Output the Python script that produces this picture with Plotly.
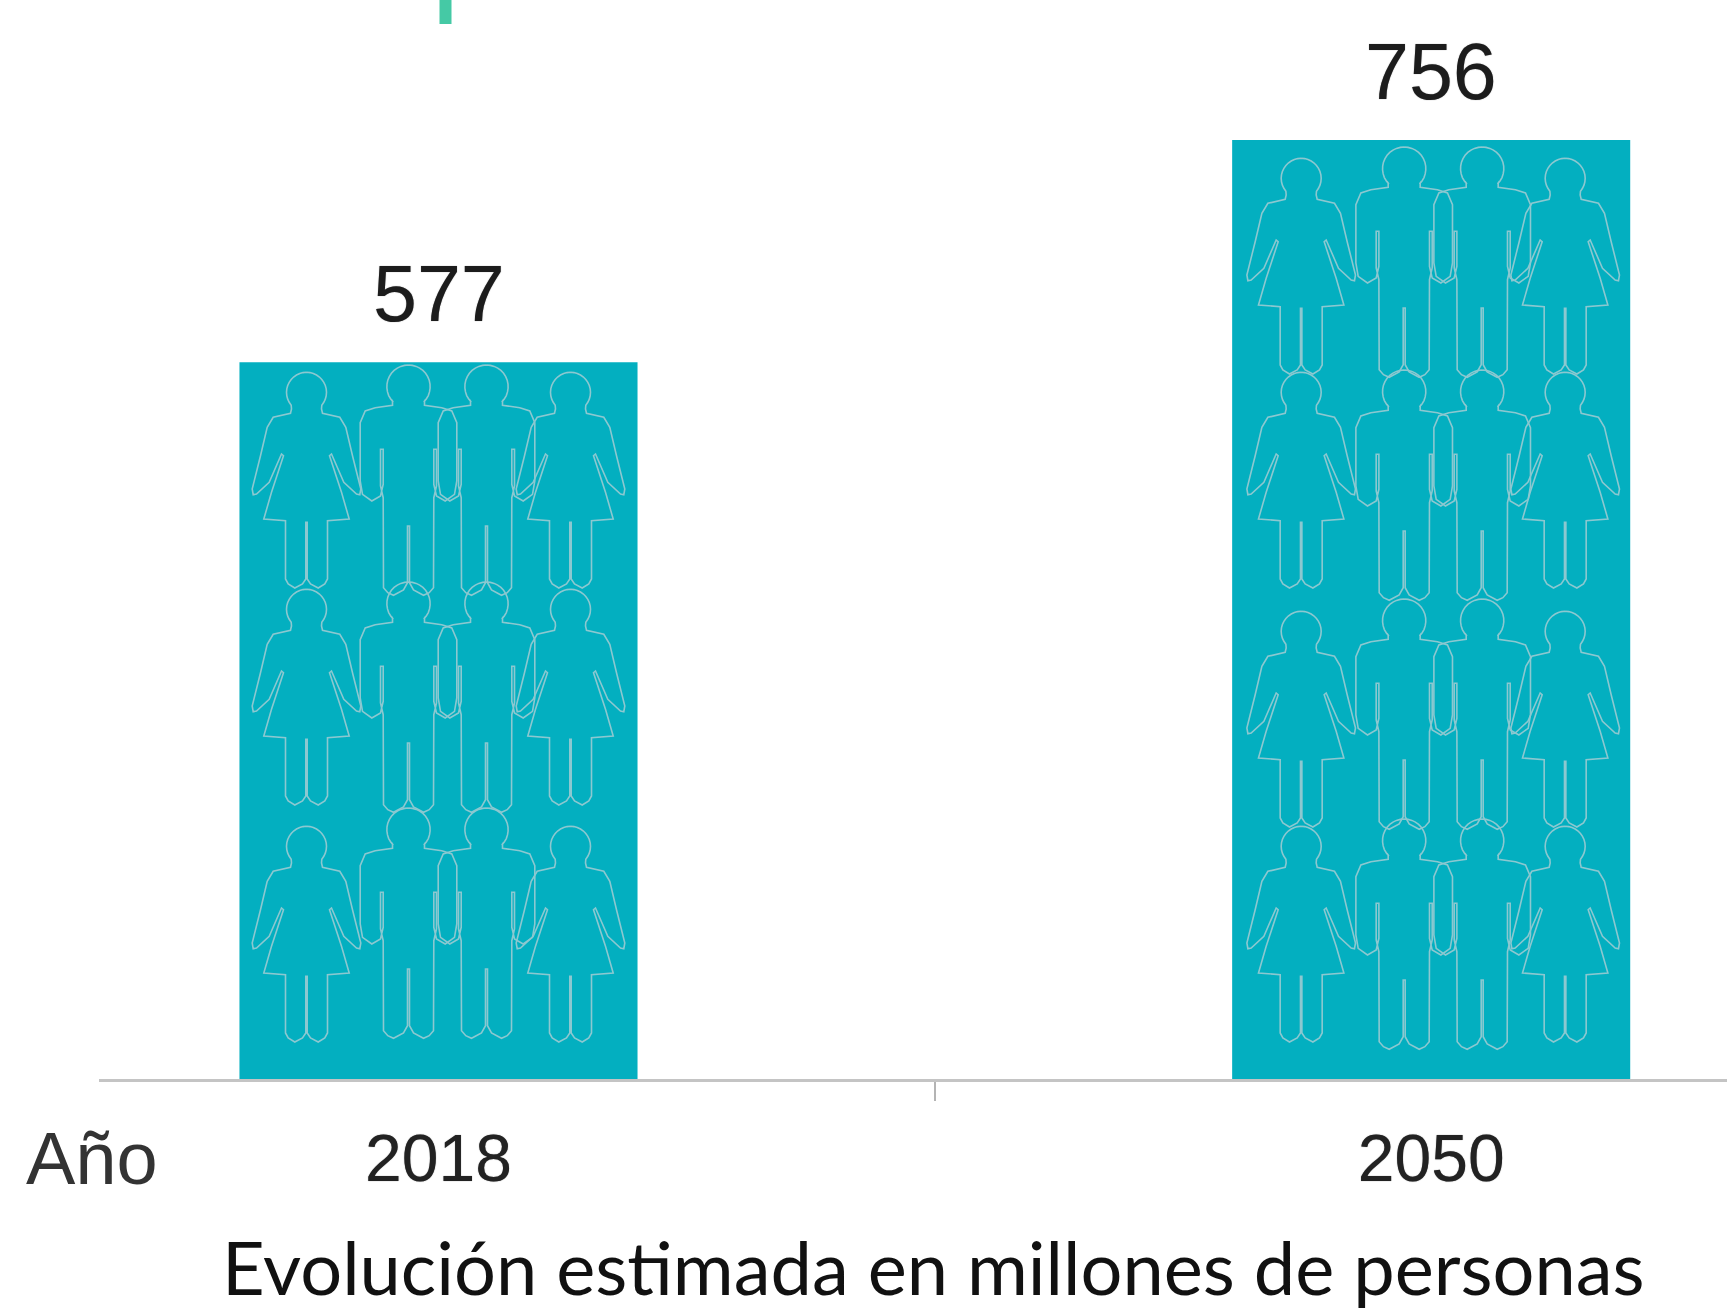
import numpy as np
import plotly.graph_objects as go

YEARS = ["2018", "2050"]
MILLIONS = [577, 756]
X_PREFIX = "Año"
CAPTION = "Evolución estimada en millones de personas"

W, H = 1727, 1314
BASE_Y = 1079
PLOT_L = 99
PX_PER_UNIT = 939 / 756
TEAL = "#03afc0"
OUTLINE = "rgb(140,200,208)"

def arc(cx, cy, r, a0, a1, n=14):
    t = np.radians(np.linspace(a0, a1, n))
    return [(cx + r * np.cos(a), cy + r * np.sin(a)) for a in t]

def paper_x(px):
    return (px - PLOT_L) / (W - PLOT_L)

def paper_y(px):
    return (BASE_Y - px) / BASE_Y

# person outlines: left half, drawn from the head top down to the centre of the legs
WOMAN_HALF = (
    arc(0, 55, 60, 270, 140)
    + [(-45, 105), (-48, 118), (-100, 130), (-118, 160), (-138, 245), (-163, 345), (-160, 362),
       (-150, 360), (-112, 325), (-75, 240), (-69, 245), (-105, 355), (-128, 435), (-63, 440),
       (-63, 615), (-55, 630), (-35, 642), (-12, 630), (-2, 615), (-2, 445)]
)
MAN_HALF = (
    arc(0, 62, 65, 270, 135)
    + [(-48, 105), (-48, 118), (-100, 125), (-130, 135), (-145, 170), (-145, 345), (-138, 385),
       (-110, 405), (-84, 390), (-76, 355), (-76, 250), (-84, 250), (-84, 360), (-76, 395),
       (-75, 665), (-62, 680), (-45, 688), (-15, 672), (-3, 650), (-3, 480)]
)

# (bar index, men centre shift, women centre shift, men head tops, women head tops) in pixels above baseline
BAR_FIGURES = [
    (0, 9, 0, [713, 496, 270], [705, 488, 251]),
    (1, 12, 2, [931, 708, 479, 259], [919, 705, 466, 251]),
]

shapes = []
for idx, m_shift, w_shift, m_tops, w_tops in BAR_FIGURES:
    for tops, half, shift, offs in (
        (m_tops, MAN_HALF, m_shift, (-39, 39)),
        (w_tops, WOMAN_HALF, w_shift, (-132, 132)),
    ):
        for top in tops:
            for off in offs:
                pts = [(x + 3 * (off + shift), y) for x, y in half]
                pts_r = [(-x + 3 * (off + shift), y) for x, y in reversed(half)]
                path = "M " + " L ".join(f"{x/3:.1f},{top - y/3:.1f}" for x, y in pts + pts_r)
                shapes.append(dict(
                    type="path", path=path, xref="x", yref="y",
                    xsizemode="pixel", ysizemode="pixel", xanchor=idx, yanchor=0,
                    line=dict(color=OUTLINE, width=1.6), fillcolor="rgba(0,0,0,0)", layer="above",
                ))

# small green mark on the top edge
shapes.append(dict(
    type="line", xref="paper", yref="paper",
    x0=paper_x(445.5), x1=paper_x(445.5), y0=paper_y(24), y1=1.01,
    line=dict(color="#45c9a5", width=12),
))

fig = go.Figure(go.Bar(
    x=YEARS, y=MILLIONS, width=0.401, marker=dict(color=TEAL, line=dict(width=0)),
    hoverinfo="x+y",
))

annotations = [
    dict(x=i, y=v, xref="x", yref="y", text=str(v), showarrow=False, yanchor="bottom", yshift=22,
         font=dict(family="Liberation Sans", size=79, color="#1c1c1c", shadow="0 0 1px rgba(0,0,0,0.5)"))
    for i, v in enumerate(MILLIONS)
]
annotations.append(dict(
    x=paper_x(92), y=paper_y(1158), xref="paper", yref="paper", text=X_PREFIX, showarrow=False,
    xanchor="center", yanchor="middle",
    font=dict(family="Liberation Sans", size=74, color="#333333"),
))
annotations.append(dict(
    x=paper_x(933), y=paper_y(1266), xref="paper", yref="paper", text=CAPTION, showarrow=False,
    xanchor="center", yanchor="middle",
    font=dict(family="Lato", size=74, color="#111111"),
))

fig.update_layout(
    width=W, height=H, margin=dict(l=PLOT_L, r=0, t=0, b=H - BASE_Y, pad=0),
    paper_bgcolor="white", plot_bgcolor="white", showlegend=False,
    shapes=shapes, annotations=annotations,
    xaxis=dict(
        type="category", range=[-0.342, 1.298], showline=True, linecolor="#c4c4c4", linewidth=3,
        ticks="outside", tickson="boundaries", ticklen=19, tickwidth=1.5, tickcolor="#b4b4b4",
        tickfont=dict(family="Liberation Sans", size=66, color="#222222", shadow="0 0 1px rgba(0,0,0,0.6)"),
        showgrid=False, zeroline=False, ticklabelstandoff=20,
    ),
    yaxis=dict(visible=False, range=[0, BASE_Y / PX_PER_UNIT], showgrid=False, zeroline=False),
)

fig.write_html(
    "out.html",
    config={"displayModeBar": False},
    post_script="document.body.style.margin='0';document.body.style.overflow='hidden';",
)
